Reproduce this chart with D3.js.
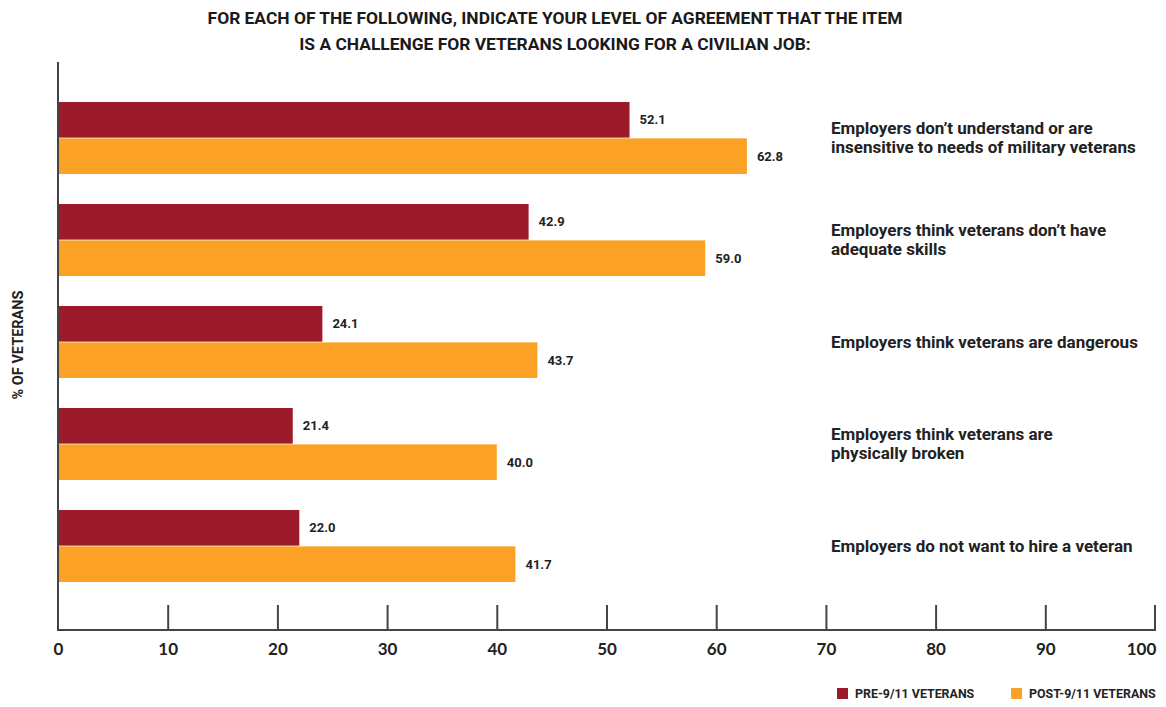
<!DOCTYPE html>
<html>
<head>
<meta charset="utf-8">
<script src="https://cdn.jsdelivr.net/npm/d3@7"></script>
<style>
  html, body { margin: 0; padding: 0; background: #fff; }
  svg { display: block; font-family: Roboto, "Noto Sans", sans-serif; }
</style>
</head>
<body>
<svg id="chart" width="1166" height="707"></svg>
<script>
const categories = [
  ["Employers don\u2019t understand or are", "insensitive to needs of military veterans"],
  ["Employers think veterans don\u2019t have", "adequate skills"],
  ["Employers think veterans are dangerous"],
  ["Employers think veterans are", "physically broken"],
  ["Employers do not want to hire a veteran"]
];
const seriesNames = ["PRE-9/11 VETERANS", "POST-9/11 VETERANS"];
const preValues = [52.1, 42.9, 24.1, 21.4, 22.0];
const postValues = [62.8, 59.0, 43.7, 40.0, 41.7];
const xTicks = [0, 10, 20, 30, 40, 50, 60, 70, 80, 90, 100];
const titleLines = [
  "FOR EACH OF THE FOLLOWING, INDICATE YOUR LEVEL OF AGREEMENT THAT THE ITEM",
  "IS A CHALLENGE FOR VETERANS LOOKING FOR A CIVILIAN JOB:"
];
const yAxisTitle = "% OF VETERANS";
const colors = ["#9c1b2b", "#fba226"];

const svg = d3.select("#chart");
const mLeft = 58, mRight = 1155, mTop = 62, mBottom = 630;

const x = d3.scaleLinear().domain([0, 100]).range([mLeft, mRight]);
const idx = d3.range(categories.length);
const y = d3.scaleBand().domain(idx).range([87, 597]).paddingInner(0.294).paddingOuter(0.147);
const ySub = d3.scaleBand().domain([0, 1]).range([0, y.bandwidth()]).paddingInner(0.02);
const seriesValues = [preValues, postValues];

// Title
svg.append("g").selectAll("text").data(titleLines).join("text")
  .attr("x", 555).attr("y", (d, i) => 24 + i * 26)
  .attr("text-anchor", "middle")
  .attr("font-size", 17.4).attr("font-weight", 700).attr("fill", "#1a1a1a")
  .text(d => d);

// Bars
const groups = svg.append("g").selectAll("g").data(idx).join("g")
  .attr("transform", d => `translate(0,${y(d)})`);
groups.selectAll("rect").data(i => seriesValues.map((vals, s) => ({ s, v: vals[i] }))).join("rect")
  .attr("x", x(0))
  .attr("y", d => ySub(d.s))
  .attr("width", d => x(d.v) - x(0))
  .attr("height", ySub.bandwidth())
  .attr("fill", d => colors[d.s]);
groups.selectAll("text.val").data(i => seriesValues.map((vals, s) => ({ s, v: vals[i] }))).join("text")
  .attr("class", "val")
  .attr("x", d => x(d.v) + 10)
  .attr("y", d => ySub(d.s) + ySub.bandwidth() / 2)
  .attr("dy", "0.35em")
  .attr("font-size", 13).attr("font-weight", 700).attr("fill", "#222")
  .text(d => d.v.toFixed(1));

// Category labels
const catG = svg.append("g").selectAll("text").data(idx).join("text")
  .attr("x", 831)
  .attr("font-size", 17).attr("font-weight", 700).attr("fill", "#222");
catG.each(function(i) {
  const lines = categories[i];
  const cy = y(i) + y.bandwidth() / 2;
  const lh = 19;
  d3.select(this).selectAll("tspan").data(lines).join("tspan")
    .attr("x", 831)
    .attr("y", (d, k) => cy + (k - (lines.length - 1) / 2) * lh)
    .attr("dy", "0.35em")
    .text(d => d);
});

// Axes
const xAxis = d3.axisBottom(x).tickValues(xTicks).tickSize(-25).tickPadding(34).tickFormat(d3.format("d"));
const gx = svg.append("g").attr("transform", `translate(0,${mBottom})`).call(xAxis);
gx.select(".domain").attr("d", `M${mLeft},0H${mRight}V-25`).attr("stroke", "#444").attr("stroke-width", 2).attr("fill", "none");
gx.selectAll(".tick line").attr("stroke", "#444").attr("stroke-width", 2);
gx.selectAll(".tick text").attr("font-size", 17).attr("fill", "#222").attr("font-family", "Lato, sans-serif").attr("font-weight", 700).attr("dy", "0")
  .attr("y", 25);
gx.selectAll(".tick").filter(d => d === 0 || d === 100).select("line").remove();
gx.selectAll(".tick").filter(d => d === 100).select("text").attr("x", -14);

svg.append("line").attr("x1", mLeft).attr("x2", mLeft).attr("y1", mTop).attr("y2", mBottom + 1)
  .attr("stroke", "#444").attr("stroke-width", 2);

// Y axis title
svg.append("text")
  .attr("transform", `translate(23,345) rotate(-90)`)
  .attr("text-anchor", "middle")
  .attr("font-size", 14.5).attr("font-weight", 700).attr("fill", "#222")
  .text(yAxisTitle);

// Legend
const legendX = [837, 1011];
const lg = svg.append("g").selectAll("g").data(seriesNames).join("g")
  .attr("transform", (d, i) => `translate(${legendX[i]},688)`);
lg.append("rect").attr("width", 11).attr("height", 11).attr("fill", (d, i) => colors[i]);
lg.append("text").attr("x", 18).attr("y", 6).attr("dy", "0.35em")
  .attr("font-size", 12.4).attr("font-weight", 700).attr("fill", "#222")
  .text(d => d);
</script>
</body>
</html>
